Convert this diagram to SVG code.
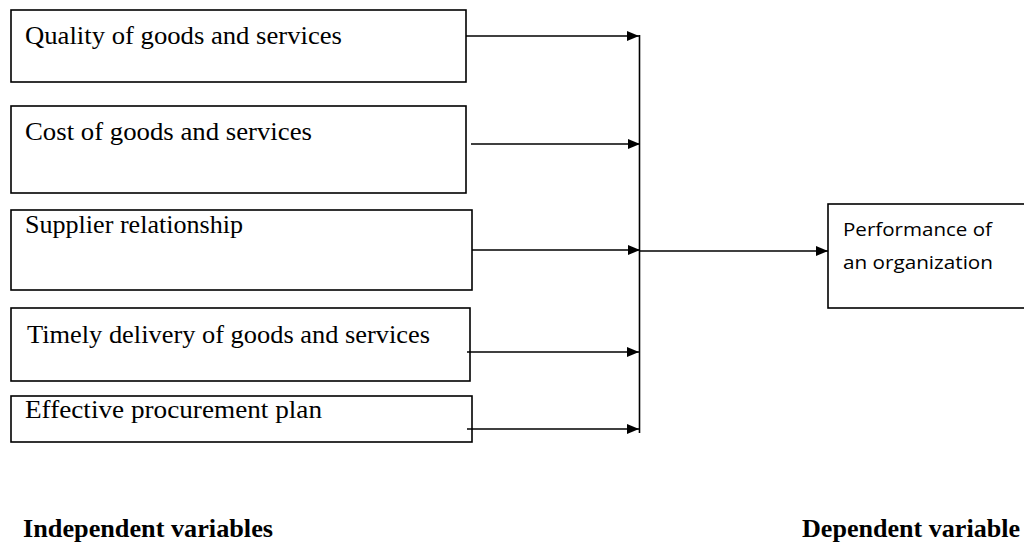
<svg xmlns="http://www.w3.org/2000/svg" width="1024" height="543" viewBox="0 0 1024 543">
  <style>
    .box { fill: #fff; stroke: #000; stroke-width: 1.6; }
    .lbl { font-family: "Liberation Serif", "Times New Roman", serif; font-size: 25.5px; fill: #000; }
    .lbl2 { font-family: "Open Sans", "Liberation Sans", sans-serif; font-size: 19px; fill: #000; }
    .head { font-family: "Liberation Serif", "Times New Roman", serif; font-size: 25px; font-weight: bold; fill: #000; }
    .wire { fill: none; stroke: #000; stroke-width: 1.6; }
  </style>
  <defs>
    <marker id="arrow" viewBox="0 0 12 10" refX="12" refY="5" markerWidth="12" markerHeight="10" markerUnits="userSpaceOnUse" orient="auto">
      <path d="M0,0 L12,5 L0,10 Z" fill="#000"/>
    </marker>
  </defs>
  <rect width="1024" height="543" fill="#fff"/>

  <g id="quality">
    <rect class="box" x="11" y="10" width="455" height="72"/>
    <text class="lbl" x="25" y="44" textLength="317" lengthAdjust="spacingAndGlyphs">Quality of goods and services</text>
  </g>
  <g id="cost">
    <rect class="box" x="11" y="106" width="455" height="87"/>
    <text class="lbl" x="25" y="140" textLength="287" lengthAdjust="spacingAndGlyphs">Cost of goods and services</text>
  </g>
  <g id="supplier">
    <rect class="box" x="11" y="210" width="461" height="80"/>
    <text class="lbl" x="25" y="233" textLength="218" lengthAdjust="spacingAndGlyphs">Supplier relationship</text>
  </g>
  <g id="timely">
    <rect class="box" x="11" y="308" width="459" height="73"/>
    <text class="lbl" x="27" y="343" textLength="403" lengthAdjust="spacingAndGlyphs">Timely delivery of goods and services</text>
  </g>
  <g id="procurement">
    <rect class="box" x="11" y="396" width="461" height="46"/>
    <text class="lbl" x="25" y="418" textLength="297" lengthAdjust="spacingAndGlyphs">Effective procurement plan</text>
  </g>
  <g id="performance">
    <rect class="box" x="828" y="204" width="210" height="104"/>
    <text class="lbl2" x="843" y="236" textLength="149" lengthAdjust="spacingAndGlyphs">Performance of</text>
    <text class="lbl2" x="843" y="269" textLength="150" lengthAdjust="spacingAndGlyphs">an organization</text>
  </g>

  <g id="connectors">
    <line class="wire" x1="466" y1="36" x2="639" y2="36" marker-end="url(#arrow)"/>
    <line class="wire" x1="471" y1="144" x2="640" y2="144" marker-end="url(#arrow)"/>
    <line class="wire" x1="472" y1="250" x2="640" y2="250" marker-end="url(#arrow)"/>
    <line class="wire" x1="467" y1="352" x2="639" y2="352" marker-end="url(#arrow)"/>
    <line class="wire" x1="467" y1="429" x2="639" y2="429" marker-end="url(#arrow)"/>
    <line class="wire" x1="639.5" y1="35" x2="639.5" y2="433"/>
    <line class="wire" x1="640" y1="251" x2="828" y2="251" marker-end="url(#arrow)"/>
  </g>

  <g id="captions">
    <text class="head" x="23" y="537" textLength="250" lengthAdjust="spacingAndGlyphs">Independent variables</text>
    <text class="head" x="802" y="537" textLength="218" lengthAdjust="spacingAndGlyphs">Dependent variable</text>
  </g>
</svg>
